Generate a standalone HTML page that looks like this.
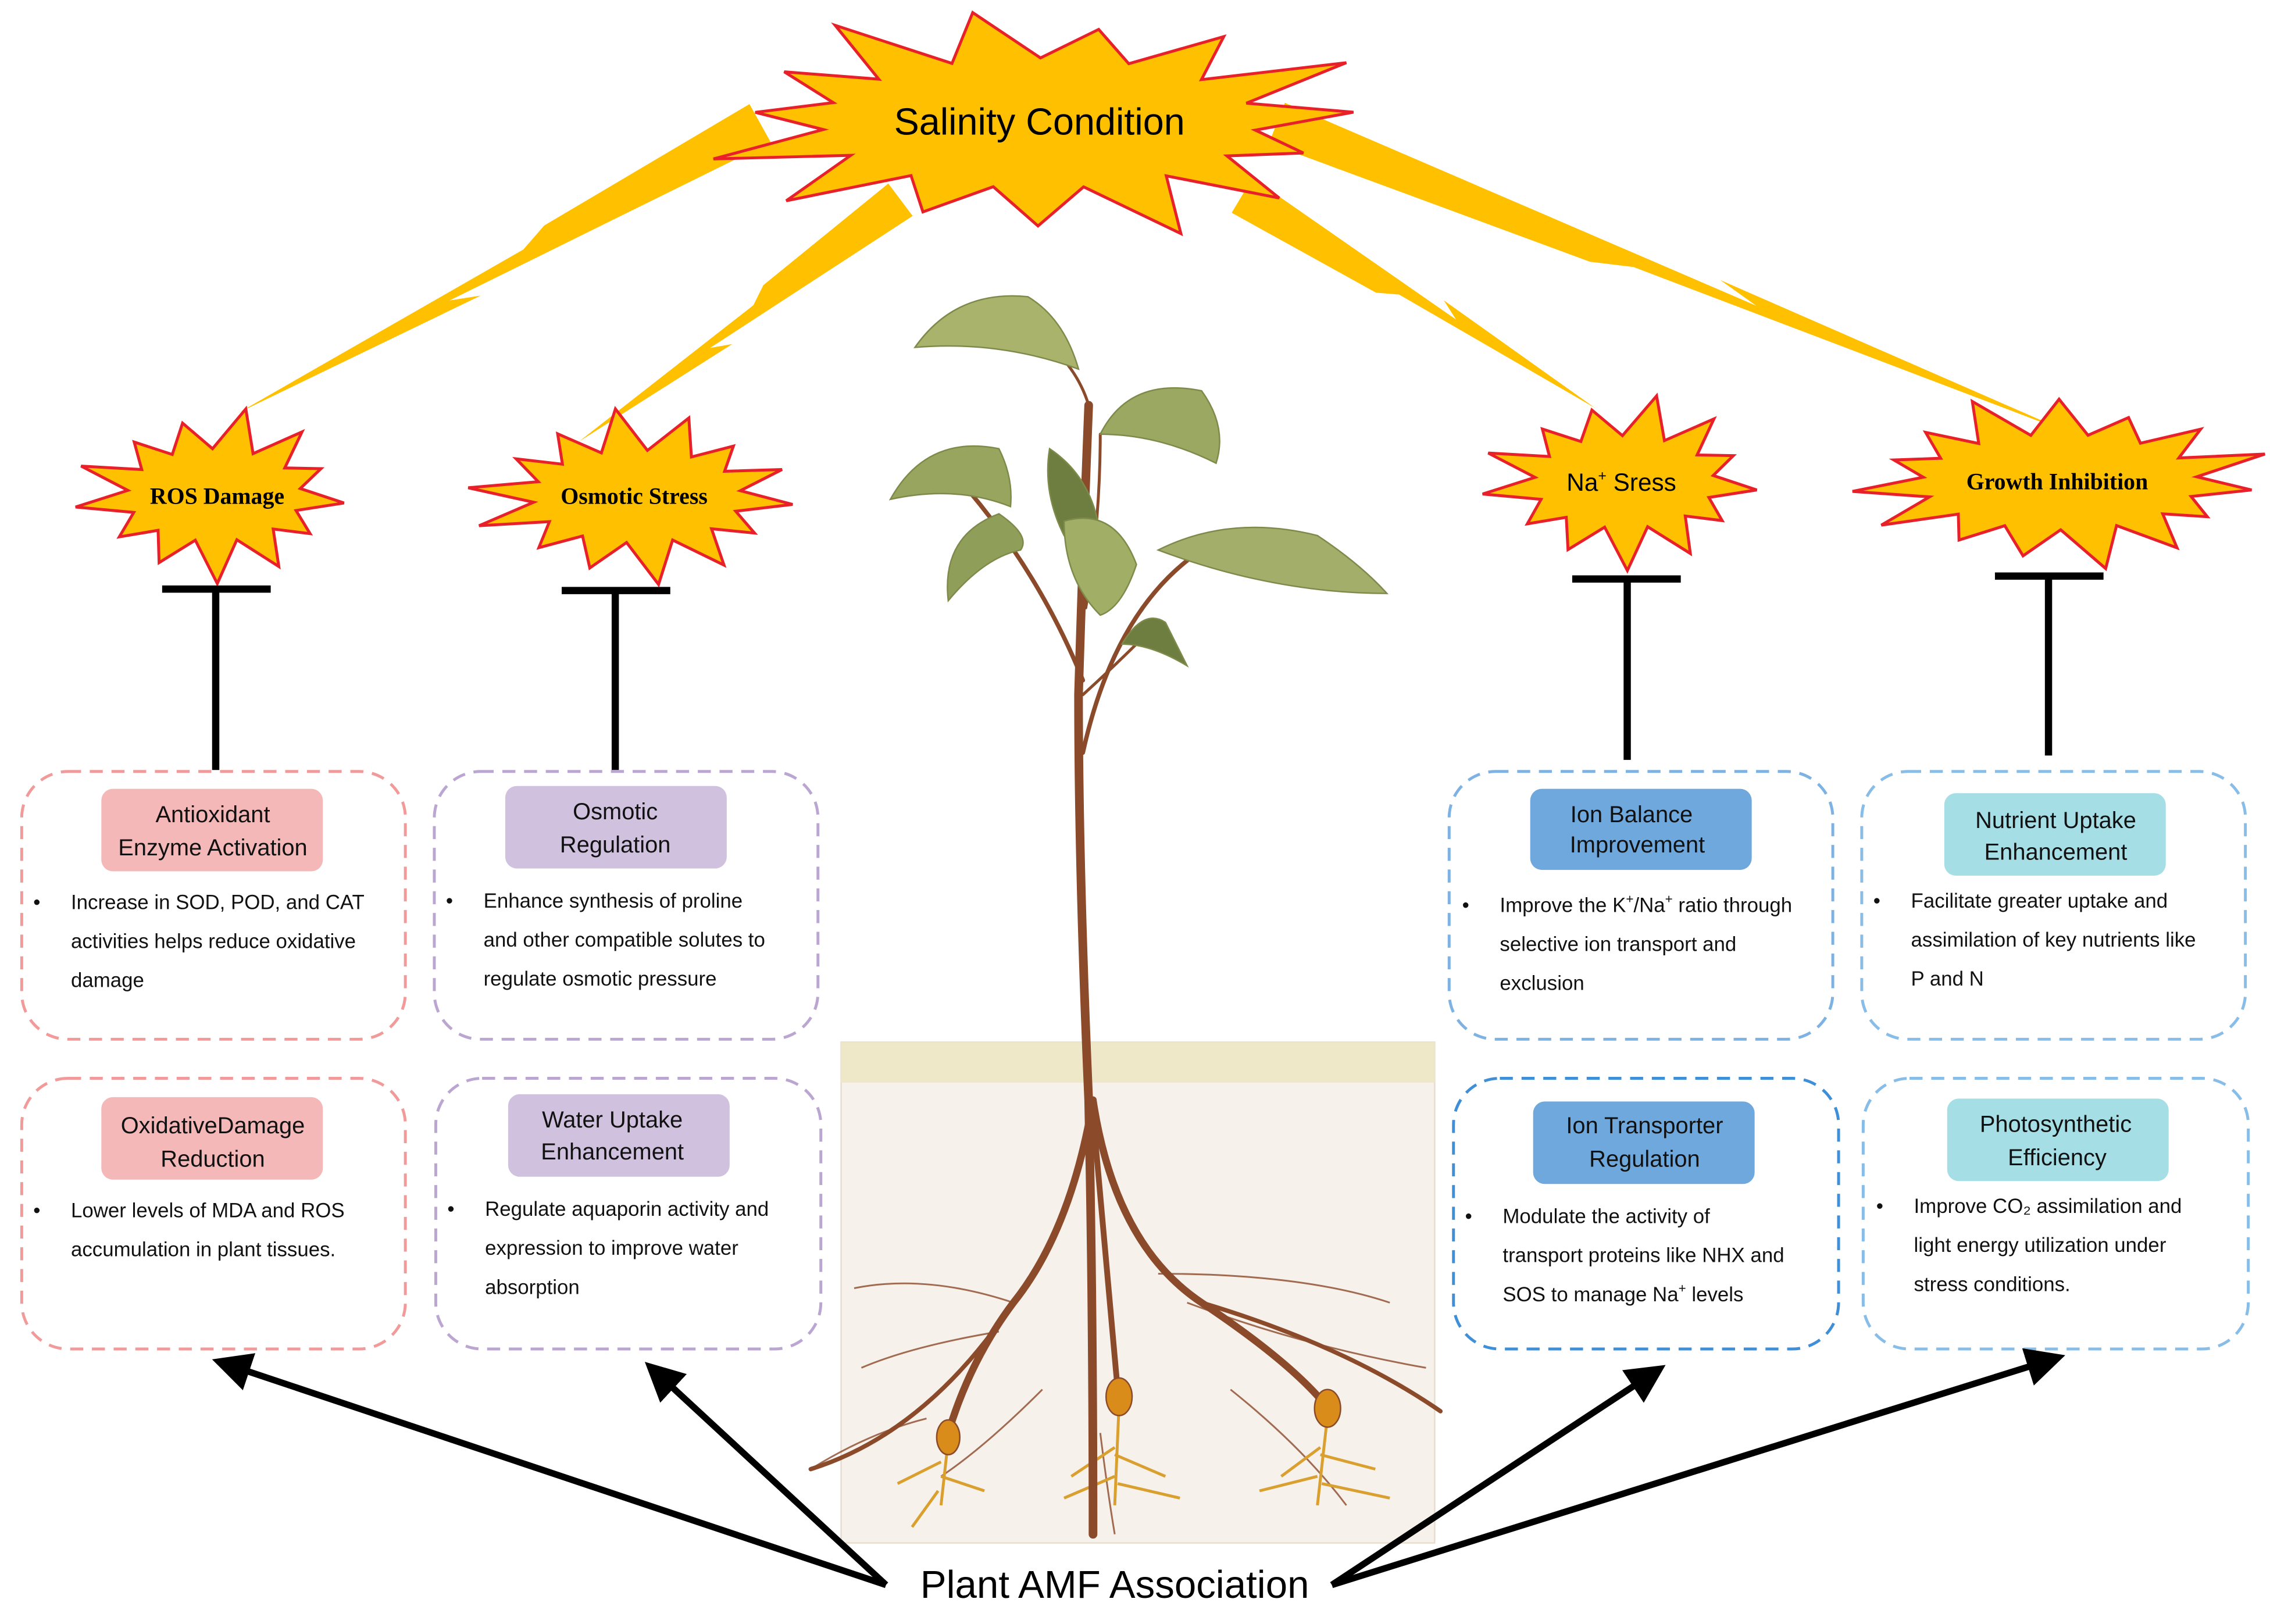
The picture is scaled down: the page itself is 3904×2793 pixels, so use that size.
<!DOCTYPE html>
<html><head><meta charset="utf-8"><style>
html,body{margin:0;padding:0;background:#fff}
svg{display:block}
.s{font-family:"Liberation Sans",sans-serif}
.r{font-family:"Liberation Serif",serif;font-weight:bold}
</style></head><body>
<svg id="svg" width="3904" height="2793" viewBox="0 0 1568 1122" preserveAspectRatio="none" xmlns="http://www.w3.org/2000/svg">
<rect width="1568" height="1122" fill="#fff"/>
<g id="bolts" fill="#FFC000"></g>
<g id="stars" fill="#FFC000" stroke="#E8202A" stroke-width="2"></g>

<text x="718" y="93" class="s" font-size="26" text-anchor="middle" fill="#000">Salinity  Condition</text>
<text x="150" y="348" class="r" font-size="16" text-anchor="middle">ROS Damage</text>
<text x="438" y="348" class="r" font-size="16" text-anchor="middle">Osmotic  Stress</text>
<text x="1120" y="339" class="s" font-size="17" text-anchor="middle">Na<tspan font-size="10" dy="-7">+</tspan><tspan dy="7"> Sress</tspan></text>
<text x="1421" y="338" class="r" font-size="16" text-anchor="middle">Growth  Inhibition</text>

<g stroke="#000" stroke-width="5">
<line x1="149" y1="407" x2="149" y2="532"/><line x1="112" y1="407" x2="187" y2="407"/>
<line x1="425" y1="408" x2="425" y2="532"/><line x1="388" y1="408" x2="463" y2="408"/>
<line x1="1124" y1="400" x2="1124" y2="525"/><line x1="1086" y1="400" x2="1161" y2="400"/>
<line x1="1415" y1="398" x2="1415" y2="522"/><line x1="1378" y1="398" x2="1453" y2="398"/>
</g>

<rect x="581" y="720" width="410" height="346" fill="#F7F1EC" stroke="#E8DCCF" stroke-width="1"/>
<rect x="581" y="720" width="410" height="28" fill="#EFE8C8"/>

<g fill="none" stroke="#8B4A2A" stroke-width="1.2" opacity="0.8">
<path d="M700 900 Q640 880 590 890"/><path d="M690 920 Q630 930 595 945"/><path d="M800 880 Q900 880 960 900"/>
<path d="M820 900 Q900 930 985 945"/><path d="M720 960 Q680 1000 650 1020"/><path d="M850 960 Q900 1000 930 1040"/>
<path d="M760 990 Q765 1030 770 1060"/><path d="M640 980 Q600 990 560 1015"/>
</g>
<g fill="none" stroke="#8B4A2A" stroke-linecap="round">
<path d="M755 760 Q740 850 700 900 Q670 940 655 990" stroke-width="5"/>
<path d="M755 760 Q770 860 830 900 Q890 940 915 970" stroke-width="5"/>
<path d="M755 770 Q765 880 772 960" stroke-width="4"/>
<path d="M700 900 Q640 990 560 1015" stroke-width="3"/>
<path d="M830 900 Q930 930 995 975" stroke-width="3"/>
</g>
<g fill="none" stroke="#D9A030" stroke-width="2">
<path d="M655 995 L650 1040 M650 1010 L620 1025 M650 1020 L680 1030 M648 1030 L630 1055"/>
<path d="M773 970 L770 1040 M770 1000 L740 1020 M770 1005 L805 1020 M770 1020 L735 1035 M772 1025 L815 1035"/>
<path d="M917 978 L910 1040 M912 1000 L885 1020 M912 1005 L950 1015 M910 1020 L870 1030 M913 1025 L960 1035"/>
</g>
<g fill="#D98C1A" stroke="#8B4A2A" stroke-width="1">
<ellipse cx="655" cy="993" rx="8" ry="12"/><ellipse cx="773" cy="965" rx="9" ry="13"/><ellipse cx="917" cy="973" rx="9" ry="13"/>
</g>

<g fill="none" stroke="#8B4A2A" stroke-linecap="round">
<path d="M755 1060 Q755 900 752 760 Q745 600 745 480 Q748 380 752 280" stroke-width="6"/>
<path d="M748 520 Q770 420 830 380" stroke-width="3"/>
<path d="M748 470 Q720 400 670 340" stroke-width="3"/>
<path d="M750 420 Q760 360 760 300" stroke-width="2"/>
<path d="M748 480 Q770 460 790 440" stroke-width="2"/>
<path d="M752 280 Q740 240 690 215" stroke-width="2"/>
</g>
<g fill="#A9B36B" stroke="#7E8A4A" stroke-width="1">
<path d="M632 240 Q660 200 710 205 Q735 220 745 255 Q690 235 632 240Z"/>
<path d="M760 300 Q780 260 830 270 Q848 295 840 320 Q800 300 760 300Z" fill="#9AA862"/>
<path d="M615 345 Q640 300 690 310 Q700 330 698 350 Q660 335 615 345Z" fill="#97A55E"/>
<path d="M655 415 Q650 370 690 355 Q712 370 705 380 Q680 385 655 415Z" fill="#8F9E58"/>
<path d="M725 310 Q755 330 760 370 Q745 385 735 370 Q720 340 725 310Z" fill="#6E7E40"/>
<path d="M735 360 Q770 350 785 390 Q775 420 760 425 Q735 400 735 360Z" fill="#A0AE66"/>
<path d="M800 380 Q850 355 910 370 Q940 390 958 410 Q880 410 800 380Z" fill="#A3AE6A"/>
<path d="M775 445 Q790 420 805 430 Q815 450 820 460 Q795 445 775 445Z" fill="#6E7E40"/>
</g>

<g fill="none" stroke-width="2" stroke-dasharray="9 6">
<rect x="15" y="533" width="265" height="185" rx="32" stroke="#F29A9A"/>
<rect x="300" y="533" width="265" height="185" rx="32" stroke="#BBA6D2"/>
<rect x="1001" y="533" width="265" height="185" rx="32" stroke="#7DB2E3"/>
<rect x="1286" y="533" width="265" height="185" rx="32" stroke="#88BDE8"/>
<rect x="15" y="745" width="265" height="187" rx="32" stroke="#F29A9A"/>
<rect x="301" y="745" width="266" height="187" rx="32" stroke="#BBA6D2"/>
<rect x="1004" y="745" width="266" height="187" rx="32" stroke="#3F8FD8"/>
<rect x="1287" y="745" width="266" height="187" rx="32" stroke="#88BDE8"/>
</g>
<rect x="70" y="545" width="153" height="57" rx="8" fill="#F4B8B8"/>
<rect x="349" y="543" width="153" height="57" rx="8" fill="#D0C1DE"/>
<rect x="1057" y="545" width="153" height="56" rx="8" fill="#6FA8DC"/>
<rect x="1343" y="548" width="153" height="57" rx="8" fill="#A6DEE6"/>
<rect x="70" y="758" width="153" height="57" rx="8" fill="#F4B8B8"/>
<rect x="351" y="756" width="153" height="57" rx="8" fill="#D0C1DE"/>
<rect x="1059" y="761" width="153" height="57" rx="8" fill="#6FA8DC"/>
<rect x="1345" y="759" width="153" height="57" rx="8" fill="#A6DEE6"/>

<g class="s" font-size="16" text-anchor="middle" fill="#111">
<text x="147" y="568">Antioxidant</text><text x="147" y="591">Enzyme Activation</text>
<text x="425" y="566">Osmotic</text><text x="425" y="589">Regulation</text>
<text x="1127" y="568">Ion Balance</text><text x="1131" y="589">Improvement</text>
<text x="1420" y="572">Nutrient Uptake</text><text x="1420" y="594">Enhancement</text>
<text x="147" y="783">OxidativeDamage</text><text x="147" y="806">Reduction</text>
<text x="423" y="779">Water Uptake</text><text x="423" y="801">Enhancement</text>
<text x="1136" y="783">Ion Transporter</text><text x="1136" y="806">Regulation</text>
<text x="1420" y="782">Photosynthetic</text><text x="1421" y="805">Efficiency</text>
</g>

<g class="s" font-size="14" fill="#111">
<text x="23" y="628">•</text><text x="49" y="628">Increase in SOD, POD, and CAT</text><text x="49" y="655">activities helps reduce oxidative</text><text x="49" y="682">damage</text>
<text x="308" y="627">•</text><text x="334" y="627">Enhance synthesis of proline</text><text x="334" y="654">and other compatible solutes to</text><text x="334" y="681">regulate osmotic pressure</text>
<text x="1010" y="630">•</text><text x="1036" y="630">Improve the K<tspan font-size="9" dy="-6">+</tspan><tspan dy="6">/Na</tspan><tspan font-size="9" dy="-6">+</tspan><tspan dy="6"> ratio through</tspan></text><text x="1036" y="657">selective ion transport and</text><text x="1036" y="684">exclusion</text>
<text x="1294" y="627">•</text><text x="1320" y="627">Facilitate greater uptake and</text><text x="1320" y="654">assimilation of key nutrients like</text><text x="1320" y="681">P and N</text>
<text x="23" y="841">•</text><text x="49" y="841">Lower levels of MDA and ROS</text><text x="49" y="868">accumulation in plant tissues.</text>
<text x="309" y="840">•</text><text x="335" y="840">Regulate aquaporin activity and</text><text x="335" y="867">expression to improve water</text><text x="335" y="894">absorption</text>
<text x="1012" y="845">•</text><text x="1038" y="845">Modulate the activity of</text><text x="1038" y="872">transport proteins like NHX and</text><text x="1038" y="899">SOS to manage Na<tspan font-size="9" dy="-6">+</tspan><tspan dy="6"> levels</tspan></text>
<text x="1296" y="838">•</text><text x="1322" y="838">Improve CO₂ assimilation and</text><text x="1322" y="865">light energy utilization under</text><text x="1322" y="892">stress conditions.</text>
</g>

<defs><marker id="ah" markerWidth="6" markerHeight="6" refX="4" refY="3" orient="auto" markerUnits="strokeWidth"><path d="M0,0 L6,3 L0,6 Z" fill="#000"/></marker></defs>
<g stroke="#000" stroke-width="4.5" marker-end="url(#ah)">
<line x1="612" y1="1095" x2="155" y2="942"/>
<line x1="612" y1="1095" x2="452" y2="947"/>
<line x1="920" y1="1095" x2="1143" y2="948"/>
<line x1="920" y1="1095" x2="1418" y2="939"/>
</g>
<text x="770" y="1104" class="s" font-size="27" text-anchor="middle" fill="#000">Plant AMF Association</text>
</svg>
<script>
(function(){
var NS="http://www.w3.org/2000/svg";
function star(cx,cy,rx,ry,irx,iry,n,rot){
 var p=[];for(var i=0;i<2*n;i++){var a=rot+Math.PI*i/n;var o=i%2==0;
 var j=o?(1+0.12*Math.sin(i*2.3)):1;
 p.push((cx+Math.cos(a)*(o?rx*j:irx)).toFixed(1)+","+(cy+Math.sin(a)*(o?ry*j:iry)).toFixed(1));}
 var e=document.createElementNS(NS,"polygon");e.setAttribute("points",p.join(" "));
 document.getElementById("stars").appendChild(e);}
star(718,85,218,75,150,45,15,-0.1);
star(148,342,90,55,60,32,13,0.1);
star(440,343,108,55,72,32,14,0.1);
star(1122,333,92,55,62,32,13,0.1);
star(1423,333,133,55,95,33,15,0.1);
function bolt(x0,y0,x1,y1,w){
 var dx=x1-x0,dy=y1-y0,L=Math.hypot(dx,dy),ux=dx/L,uy=dy/L,nx=-uy,ny=ux;
 var loc=[[0,-w],[0.6,-0.2*w],[0.55,-0.7*w],[1,0],[0.45,0.2*w],[0.4,0.7*w],[0,w]];
 var p=loc.map(function(q){return (x0+ux*q[0]*L+nx*q[1]).toFixed(1)+","+(y0+uy*q[0]*L+ny*q[1]).toFixed(1)});
 var e=document.createElementNS(NS,"polygon");e.setAttribute("points",p.join(" "));
 document.getElementById("bolts").appendChild(e);}
bolt(525,85,165,285,15);
bolt(622,138,400,305,14);
bolt(858,135,1102,282,14);
bolt(882,85,1432,300,15);
})();
</script>
</body></html>
